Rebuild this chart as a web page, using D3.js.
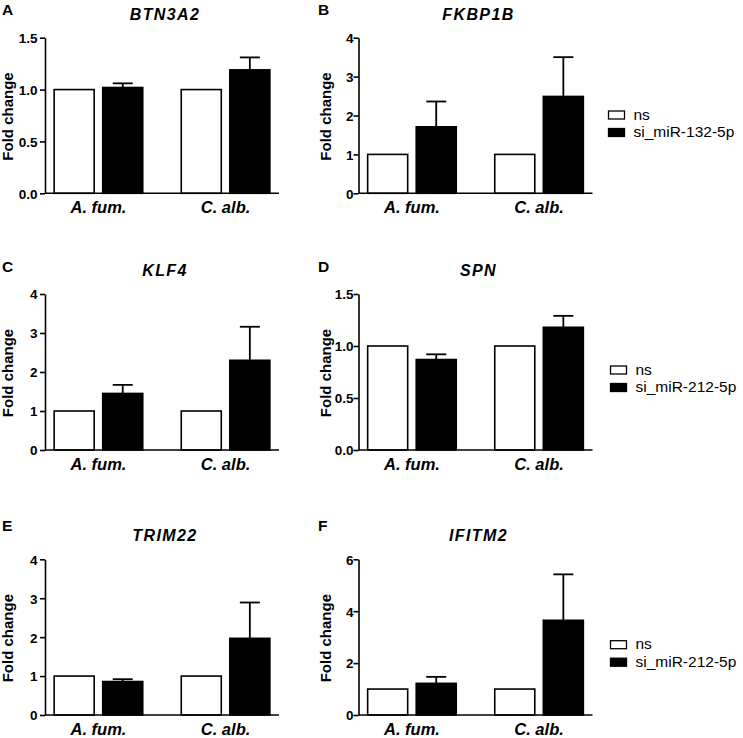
<!DOCTYPE html>
<html>
<head>
<meta charset="utf-8">
<script src="https://cdn.jsdelivr.net/npm/d3@7"></script>
<style>
  body { margin: 0; background: #fff; }
  svg { display: block; font-family: "Liberation Sans", Arial, sans-serif; }
</style>
</head>
<body>
<svg id="chart" width="743" height="738"></svg>
<script>
// data
var genes = ["BTN3A2", "FKBP1B", "KLF4", "SPN", "TRIM22", "IFITM2"];
var panelLetters = ["A", "B", "C", "D", "E", "F"];
var groups = ["A. fum.", "C. alb."];
var conditions = ["ns", "si"];
var nsValues = [[1, 1], [1, 1], [1, 1], [1, 1], [1, 1], [1, 1]];
var siValues = [[1.02, 1.19], [1.71, 2.49], [1.45, 2.30], [0.87, 1.18], [0.86, 1.97], [1.22, 3.65]];
var siErrors = [[0.04, 0.12], [0.65, 1.01], [0.22, 0.86], [0.05, 0.11], [0.06, 0.92], [0.25, 1.77]];
var yMax = [1.5, 4, 4, 1.5, 4, 6];
var yTicks = [[0, 0.5, 1, 1.5], [0, 1, 2, 3, 4], [0, 1, 2, 3, 4], [0, 0.5, 1, 1.5], [0, 1, 2, 3, 4], [0, 2, 4, 6]];
// legend text per row: row 0 uses 132, rows 1 and 2 use 212
var legendRows = [["ns", "si_miR-132-5p"], ["ns", "si_miR-212-5p"], ["ns", "si_miR-212-5p"]];

var svg = d3.select("#chart");

// layout
var colX = [45, 358.5];
var rowTop = [37.7, 294, 559.3];
var rowBottom = [193.3, 450, 715];
var plotW = 234;
var legendTop = [111, 366, 640.7];
var yLabelOffset = [-32.5, -27.5];
var tickLabelX = [-7.5, -5];

var x0 = d3.scaleBand().domain(groups).range([0, plotW]).paddingInner(0.303).paddingOuter(0.072);
var x1 = d3.scaleBand().domain(conditions).range([0, x0.bandwidth()]).paddingInner(0.176).paddingOuter(0);

genes.forEach(function(gene, i){
    var row = Math.floor(i / 2), col = i % 2;
    var g = svg.append("g").attr("transform", "translate(" + colX[col] + ",0)");

    var y = d3.scaleLinear().domain([0, yMax[i]]).range([rowBottom[row], rowTop[row]]);
    var fmt = yMax[i] < 2 ? d3.format(".1f") : d3.format("d");

    var flat = [];
    groups.forEach(function(grp, j){
        flat.push({group: grp, cond: "ns", value: nsValues[i][j], err: 0});
        flat.push({group: grp, cond: "si", value: siValues[i][j], err: siErrors[i][j]});
    });
    var cx = function(d){ return x0(d.group) + x1(d.cond) + x1.bandwidth() / 2; };

    // error bars (upper only), drawn under the bars
    var eb = g.append("g").selectAll("g")
        .data(flat.filter(function(d){ return d.err > 0; }))
        .enter().append("g")
        .attr("stroke", "#000")
        .attr("stroke-width", 1.8);
    eb.append("line")
        .attr("x1", cx).attr("x2", cx)
        .attr("y1", function(d){ return y(d.value); })
        .attr("y2", function(d){ return y(d.value + d.err); });
    eb.append("line")
        .attr("x1", function(d){ return cx(d) - 10; })
        .attr("x2", function(d){ return cx(d) + 10; })
        .attr("y1", function(d){ return y(d.value + d.err); })
        .attr("y2", function(d){ return y(d.value + d.err); });

    // bars
    g.append("g").selectAll("rect")
        .data(flat)
        .enter().append("rect")
        .attr("x", function(d){ return x0(d.group) + x1(d.cond); })
        .attr("width", x1.bandwidth())
        .attr("y", function(d){ return y(d.value); })
        .attr("height", function(d){ return y(0) - y(d.value); })
        .attr("fill", function(d){ return d.cond == "ns" ? "#fff" : "#000"; })
        .attr("stroke", "#000")
        .attr("stroke-width", 1.6);

    // y axis
    var yAxis = g.append("g")
        .call(d3.axisLeft(y).tickValues(yTicks[i]).tickFormat(fmt).tickSize(5).tickSizeOuter(0));
    yAxis.select(".domain").attr("stroke-width", 1.6);
    yAxis.selectAll(".tick line").attr("stroke-width", 1.6);
    yAxis.selectAll("text")
        .attr("font-size", 13.5)
        .attr("font-weight", "bold")
        .attr("font-family", "Liberation Sans, Arial, sans-serif")
        .attr("fill", "#000")
        .attr("x", tickLabelX[col])
        .attr("dy", "0.36em");

    // x axis line
    g.append("line")
        .attr("x1", 0).attr("x2", plotW)
        .attr("y1", y(0)).attr("y2", y(0))
        .attr("stroke", "#000").attr("stroke-width", 1.6);

    // group labels
    g.append("g").selectAll("text")
        .data(groups)
        .enter().append("text")
        .attr("x", function(d){ return x0(d) + x0.bandwidth() / 2; })
        .attr("y", y(0) + 20)
        .attr("text-anchor", "middle")
        .attr("font-size", 16.5)
        .attr("font-weight", "bold")
        .attr("font-style", "italic")
        .text(function(d){ return d; });

    // y label
    g.append("text")
        .attr("transform", "translate(" + yLabelOffset[col] + "," + ((rowTop[row] + rowBottom[row]) / 2 + 1) + ") rotate(-90)")
        .attr("text-anchor", "middle")
        .attr("font-size", 15)
        .attr("font-weight", "bold")
        .text("Fold change");

    // gene title
    g.append("text")
        .attr("x", plotW / 2 + 3)
        .attr("y", rowTop[row] - 18)
        .attr("text-anchor", "middle")
        .attr("font-size", 16)
        .attr("font-weight", "bold")
        .attr("font-style", "italic")
        .attr("letter-spacing", 1.4)
        .text(gene);

    // panel letter
    svg.append("text")
        .attr("x", col == 0 ? 2 : 318)
        .attr("y", row == 0 ? 15 : (row == 1 ? 272 : 531))
        .attr("font-size", 15.5)
        .attr("font-weight", "bold")
        .text(panelLetters[i]);

    // legend on the right column
    if(col == 1){
        var lg = svg.append("g")
            .attr("transform", "translate(" + (row == 0 ? 608.5 : 610.5) + "," + legendTop[row] + ")");
        var items = lg.selectAll("g")
            .data(legendRows[row])
            .enter().append("g")
            .attr("transform", function(d, k){ return "translate(0," + (k * 17.5) + ")"; });
        items.append("rect")
            .attr("width", 16).attr("height", 8)
            .attr("fill", function(d, k){ return k == 0 ? "#fff" : "#000"; })
            .attr("stroke", "#000").attr("stroke-width", 1.3);
        items.append("text")
            .attr("x", 25)
            .attr("y", 8.5)
            .attr("font-size", 15.5)
            .text(function(d){ return d; });
    }
});
</script>
</body>
</html>
